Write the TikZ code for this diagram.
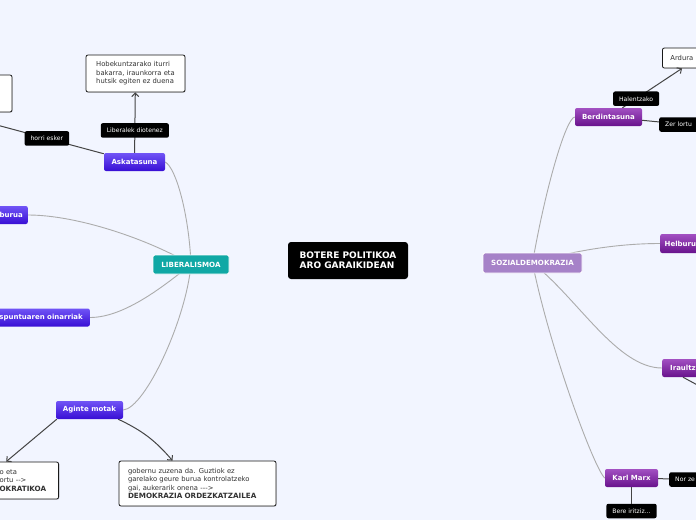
\documentclass[tikz,border=0pt]{standalone}
\usepackage{fontspec}
\setmainfont{DejaVu Sans}
\usetikzlibrary{arrows.meta,positioning,backgrounds,shadows}
\definecolor{bgblue}{RGB}{242,245,255}
\definecolor{libteal}{RGB}{16,168,165}
\definecolor{sozlila}{RGB}{166,130,200}
\definecolor{blueA}{RGB}{112,84,246}
\definecolor{blueB}{RGB}{56,14,212}
\definecolor{purpA}{RGB}{162,80,194}
\definecolor{purpB}{RGB}{104,18,140}
\definecolor{linkgray}{RGB}{172,172,172}
\definecolor{linkdark}{RGB}{68,68,68}
\definecolor{notegray}{RGB}{50,50,50}

\begin{document}
\begin{tikzpicture}[x=1pt,y=-1pt,>={Straight Barb[length=3.5pt,width=7pt]},
  every node/.style={font=\fontsize{6.1}{8.5}\selectfont},
  topic/.style={rounded corners=2pt,text=white,inner sep=0pt,minimum height=18pt,font=\fontsize{7}{8}\selectfont\bfseries},
  bluetopic/.style={topic,top color=blueA,bottom color=blueB},
  purptopic/.style={topic,top color=purpA,bottom color=purpB},
  lbl/.style={fill=black,rounded corners=2pt,text=white,inner xsep=6pt,inner ysep=0pt,minimum height=14.5pt},
  note/.style={draw=black!90,line width=0.8pt,fill=white,rounded corners=2pt,text=notegray,align=left,inner xsep=8pt,inner ysep=0pt,
    font=\fontsize{6.8}{8.5}\selectfont,drop shadow={opacity=0.2,shadow xshift=0.8pt,shadow yshift=-0.8pt}},
  link/.style={draw=linkdark,line width=1pt},
  branch/.style={draw=linkgray,line width=0.9pt}]
\useasboundingbox (0,0) rectangle (696,520);
\clip (0,0) rectangle (696,520);

% main topic
\node[fill=black,rounded corners=3pt,text=white,align=left,minimum width=120pt,minimum height=37pt,font=\fontsize{9}{10.3}\selectfont\bfseries] (root) at (348,260.5) {BOTERE POLITIKOA\\ARO GARAIKIDEAN};

% liberalismoa side
\node[topic,fill=libteal,draw=white,line width=0.8pt,minimum width=76pt,minimum height=19pt,font=\fontsize{7.1}{8}\selectfont\bfseries] (lib) at (191,264.5) {LIBERALISMOA};
\node[bluetopic,minimum width=61pt] (aska) at (134.5,162) {Askatasuna};
\node[bluetopic,anchor=east,text width=60pt,align=right,inner xsep=5pt] (helb) at (28,215) {burua};
\node[bluetopic,anchor=east,text width=100pt,align=right,inner xsep=7pt] (iku) at (90,317.5) {spuntuaren oinarriak};
\node[bluetopic,minimum width=67pt] (aginte) at (89.5,410) {Aginte motak};

\node[note,minimum width=99pt,minimum height=37pt] (hobe) at (135.5,73.5) {Hobekuntzarako iturri\\bakarra, iraunkorra eta\\hutsik egiten ez duena};
\node[note,minimum width=124pt,minimum height=37pt] (tlbox) at (-50,93.5) {};
\node[note,anchor=east,text width=55pt,inner xsep=4pt,minimum height=37pt] (bl) at (59,480.5) {o eta\\ortu -{}->\\{\fontsize{7.2}{8.5}\selectfont\bfseries OKRATIKOA}};
\node[note,text width=139pt,inner xsep=9pt,minimum height=45pt] (bot) at (197.5,483.5) {gobernu zuzena da. Guztiok ez\\garelako geure burua kontrolatzeko\\gai, aukerarik onena -{}-{}->\\{\fontsize{7.2}{8.5}\selectfont\bfseries DEMOKRAZIA ORDEZKATZAILEA}};

% sozialdemokrazia side
\node[topic,fill=sozlila,draw=white,line width=0.8pt,minimum width=99pt,minimum height=20pt,font=\fontsize{7.1}{8}\selectfont\bfseries] (soz) at (532.5,263) {SOZIALDEMOKRAZIA};
\node[purptopic,minimum width=67pt] (berd) at (608.5,117) {Berdintasuna};
\node[purptopic,anchor=west,text width=50pt,align=left,inner xsep=4.5pt,minimum height=19pt] (helbR) at (660,243.5) {Helburu};
\node[purptopic,anchor=west,text width=50pt,align=left,inner xsep=8pt] (irau) at (662,368) {Iraultz};
\node[purptopic,minimum width=53pt] (karl) at (631.5,478) {Karl Marx};

\node[note,anchor=west,text width=50pt,minimum height=20pt] (ardura) at (662,58) {Ardura};
\node[lbl,anchor=west,text width=40pt,align=left] (zer) at (659,124.5) {Zer lortu};
\node[lbl,anchor=west,text width=40pt,align=left] (norze) at (669,479.5) {Nor ze};
\node[lbl] (bere) at (631.5,511) {Bere iritziz...};
\coordinate (irauout) at (725,400);

% connectors
\draw[link,->] (aska) -- node[lbl,pos=0.37] (libdio) {Liberalek diotenez} (hobe);
\draw[link,->] (aska) -- node[lbl,pos=0.37] (horri) {horri esker} (tlbox.south);
\draw[link,->] ([xshift=1pt]aginte.south west) -- ([xshift=11pt]bl.north west);
\draw[link,->] ([xshift=-5pt]aginte.south east) to[bend left=12] ([xshift=-25pt]bot.north);
\draw[link,->] (berd) -- node[lbl,pos=0.23] (halen) {Halentzako} ([xshift=20pt]ardura.south west);
\draw[link] (berd) -- (zer);
\draw[link] (karl) -- (norze);
\draw[link] (karl) -- (bere);
\draw[link] ([xshift=21pt]irau.south west) -- (irauout);

\begin{scope}[on background layer]
\fill[bgblue] (0,0) rectangle (696,520);
\draw[branch] (aska.east) .. controls +(11,6) and +(-2,-49.5) .. (lib.center);
\draw[branch] (helb.east) .. controls +(50,0) and +(-41,-24.5) .. (lib.center);
\draw[branch] (iku.east) .. controls +(35,0) and +(-26,20.5) .. (lib.center);
\draw[branch] (aginte.east) .. controls +(22,-2) and +(-5,55.5) .. (lib.center);
\draw[branch] (berd.west) .. controls +(-9,1) and +(12.5,-73) .. (soz.center);
\draw[branch] (helbR.west) .. controls +(-40,0) and +(42.5,-13) .. (soz.center);
\draw[branch] (irau.west) .. controls +(-45,0) and +(45,35) .. (soz.center);
\draw[branch] (karl.west) .. controls +(-10,-8) and +(17.5,87) .. (soz.center);
\end{scope}
\end{tikzpicture}
\end{document}
